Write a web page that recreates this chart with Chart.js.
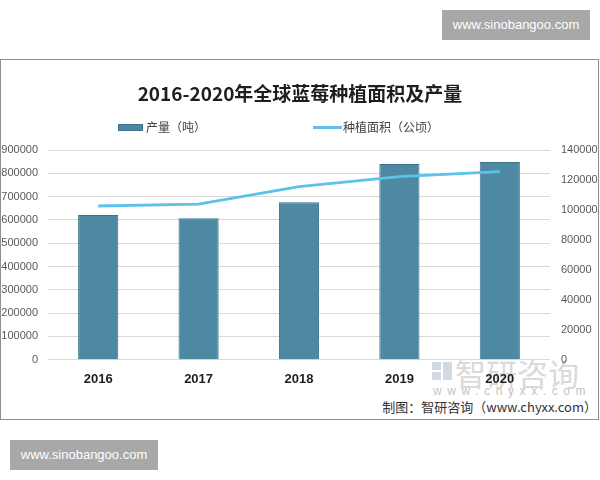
<!DOCTYPE html>
<html>
<head>
<meta charset="utf-8">
<script src="https://cdn.jsdelivr.net/npm/chart.js@4.4.1/dist/chart.umd.min.js"></script>
<style>
    body { margin: 0; background: #fff; }
    #wrap { position: relative; width: 600px; height: 480px; overflow: hidden; font-family: "Noto Sans CJK SC", "Liberation Sans", sans-serif; }
    #frame { position: absolute; left: 0px; top: 59px; width: 597px; height: 359px; border: 1px solid #8f8f8f; }
    .stamp { position: absolute; background: #a8a8a8; color: #fff; font: 13px "Liberation Sans", sans-serif; text-align: center; line-height: 30px; width: 148px; height: 30px; }
    #wmLogo { position: absolute; left: 432px; top: 362px; width: 20px; height: 18px; }
    #wmLogo div { position: absolute; background: #d3d9e3; }
    #wmText { position: absolute; left: 455px; top: 356px; font-size: 31px; color: #dadada; line-height: 34px; }
    #wmUrl { position: absolute; left: 433px; top: 384px; font: 12px "Liberation Sans", sans-serif; color: #c4c4c4; letter-spacing: 5.6px; line-height: 14px; }
    #source { position: absolute; right: 3px; top: 398px; font-size: 13px; color: #333; line-height: 18px; }
    #myChart { position: absolute; left: 0; top: 0; }
</style>
</head>
<body>
<div id="wrap">
    <div class="stamp" style="left:442px; top:10px;">www.sinobangoo.com</div>
    <div id="frame"></div>
    <div id="wmLogo">
        <div style="left:0; top:0; width:9px; height:8px;"></div>
        <div style="left:11px; top:0; width:9px; height:18px;"></div>
        <div style="left:0; top:10px; width:9px; height:8px;"></div>
    </div>
    <div id="wmText">智研咨询</div>
    <div id="wmUrl">www.chyxx.com</div>
    <div id="source">制图：智研咨询（www.chyxx.com）</div>
    <canvas id="myChart" width="600" height="480"></canvas>
    <div class="stamp" style="left:10px; top:440px;">www.sinobangoo.com</div>
</div>
<script>
const years = ['2016', '2017', '2018', '2019', '2020'];
const output = [621000, 607000, 676000, 840000, 848000];      // 产量（吨）
const area = [102600, 103900, 115500, 122200, 125500];        // 种植面积（公顷）
const leftTicks = [0, 100000, 200000, 300000, 400000, 500000, 600000, 700000, 800000, 900000];
const rightTicks = [0, 20000, 40000, 60000, 80000, 100000, 120000, 140000];

const barColor = '#4d89a2';
const lineColor = '#5cc2ea';

// legend is spread wide in the original, so draw it by hand
const legendPlugin = {
    id: 'wideLegend',
    afterDraw(chart) {
        const ctx = chart.ctx;
        const ds = chart.data.datasets;
        ctx.save();
        ctx.font = '12px "Noto Sans CJK SC"';
        ctx.textBaseline = 'middle';
        ctx.textAlign = 'left';
        ctx.fillStyle = ds[0].backgroundColor;
        ctx.fillRect(118, 124, 25, 7);
        ctx.strokeStyle = ds[0].borderColor;
        ctx.lineWidth = 1;
        ctx.strokeRect(118.5, 124.5, 24, 6);
        ctx.fillStyle = '#404040';
        ctx.fillText(ds[0].label, 146, 127.5);
        ctx.strokeStyle = ds[1].borderColor;
        ctx.lineWidth = 3;
        ctx.beginPath();
        ctx.moveTo(313, 127.5);
        ctx.lineTo(342, 127.5);
        ctx.stroke();
        ctx.fillText(ds[1].label, 343, 127.5);
        ctx.restore();
    }
};

const data = {
    labels: years,
    datasets: [{
        type: 'bar',
        label: '产量（吨）',
        data: output,
        yAxisID: 'y',
        backgroundColor: barColor,
        borderColor: '#3c7189',
        borderWidth: 1,
        barPercentage: 0.4,
        categoryPercentage: 1,
        order: 1
    }, {
        type: 'line',
        label: '种植面积（公顷）',
        data: area,
        yAxisID: 'y1',
        borderColor: lineColor,
        backgroundColor: lineColor,
        borderWidth: 2.8,
        pointRadius: 0,
        tension: 0,
        order: 0
    }]
};

const tickFont = { family: '"Liberation Sans"', size: 11 };

const config = {
    data: data,
    options: {
        responsive: false,
        animation: false,
        layout: { padding: 0 },
        plugins: {
            legend: { display: false },
            tooltip: { enabled: false },
            title: {
                display: true,
                text: '2016-2020年全球蓝莓种植面积及产量',
                color: '#1e1e1e',
                font: { family: '"Noto Sans CJK SC"', size: 19, weight: 'bold' },
                padding: { top: 82, bottom: 45.2 }
            }
        },
        scales: {
            x: {
                grid: { display: false, drawTicks: false },
                border: { display: false },
                ticks: { color: '#1e1e1e', padding: 12, font: { family: '"Liberation Sans"', size: 13, weight: 'bold' } },
                afterFit: (scale) => { scale.height = 120.3; }
            },
            y: {
                position: 'left',
                min: 0,
                max: 900000,
                afterBuildTicks: (scale) => { scale.ticks = leftTicks.map(v => ({ value: v })); },
                grid: { color: '#d9d9d9', lineWidth: 1, drawTicks: false },
                border: { display: false },
                ticks: { color: '#595959', padding: 10, font: tickFont, callback: (v) => String(v) },
                afterFit: (scale) => { scale.width = 48; }
            },
            y1: {
                position: 'right',
                min: 0,
                max: 140000,
                afterBuildTicks: (scale) => { scale.ticks = rightTicks.map(v => ({ value: v })); },
                grid: { display: false, drawTicks: false },
                border: { display: false },
                ticks: { color: '#595959', padding: 11, font: tickFont, callback: (v) => String(v) },
                afterFit: (scale) => { scale.width = 50; }
            }
        }
    },
    plugins: [legendPlugin]
};

const myChart = new Chart(document.getElementById('myChart'), config);
</script>
</body>
</html>
